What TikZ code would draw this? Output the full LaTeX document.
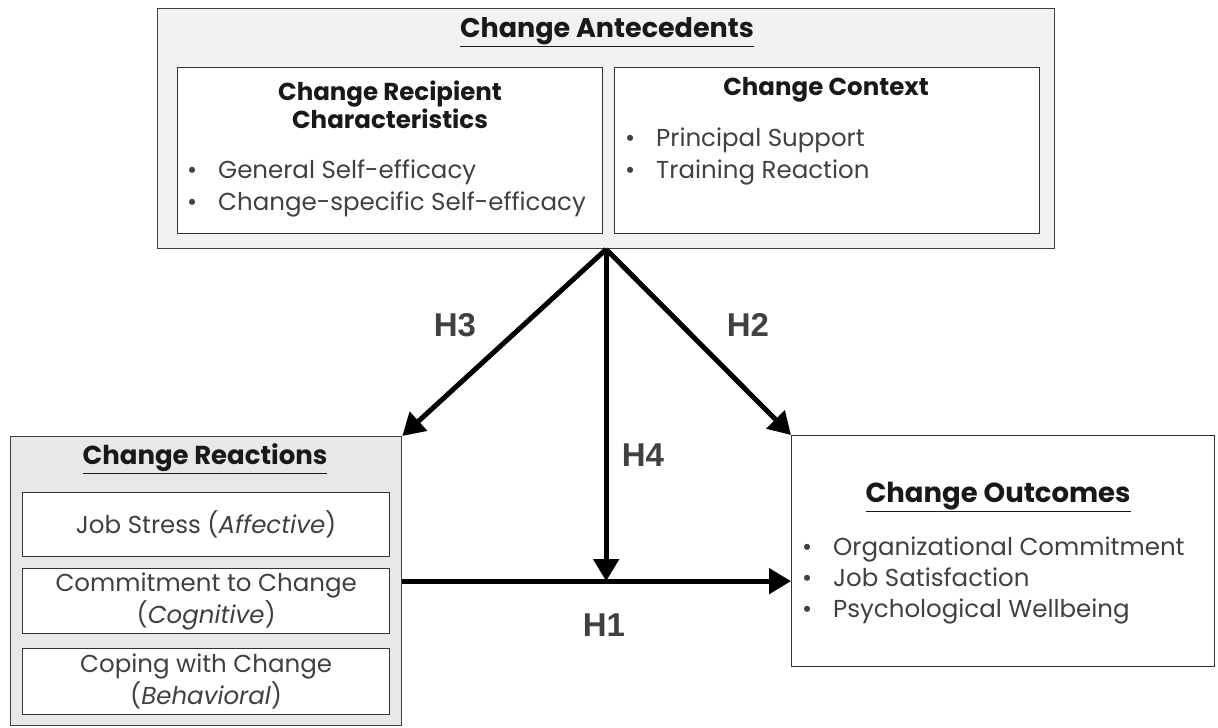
\documentclass[tikz,border=0pt]{standalone}
\usepackage{fontspec}
\setmainfont{Poppins}
\newfontfamily\labelfont{Liberation Sans}
\usetikzlibrary{arrows.meta}

\definecolor{antgray}{HTML}{F2F2F2}
\definecolor{reacgray}{HTML}{E8E8E8}
\definecolor{txtgray}{HTML}{404040}

\newcommand{\itemdot}{\makebox[31pt][l]{•}}

\tikzset{
  bigbox/.style={draw=black!75, line width=1.3pt, anchor=north west, inner sep=0pt},
  smallbox/.style={draw=black!80, line width=1.3pt, fill=white, anchor=north west, inner sep=0pt},
  boxtitle/.style={font=\bfseries\fontsize{27}{30}\selectfont, text=black!90},
  boxhead/.style={font=\bfseries\fontsize{24.5}{28}\selectfont, text=black!90, align=center},
  boxtext/.style={font=\fontsize{24.5}{32}\selectfont, text=txtgray, anchor=base west, inner sep=0pt},
  reactext/.style={font=\fontsize{24.5}{32}\selectfont, text=txtgray, align=center},
  hlabel/.style={font=\labelfont\bfseries\fontsize{33}{33}\selectfont, text=txtgray},
  harrow/.style={line width=5pt, -{Triangle[length=22pt,width=25pt]}}
}

\begin{document}
\begin{tikzpicture}[x=1pt, y=-1pt]
\useasboundingbox (0,0) rectangle (1218,728);

% antecedents
\node[bigbox, fill=antgray, minimum width=897pt, minimum height=240pt] (ante) at (157,8) {};
\node[smallbox, minimum width=425pt, minimum height=166pt] (recip) at (177,67) {};
\node[smallbox, minimum width=425pt, minimum height=166pt] (ctx) at (614,67) {};
\node[boxtitle] (antetitle) at (607,32) {\underline{Change Antecedents}};
\node[boxhead] (reciphead) at (390,105) {Change Recipient\\Characteristics};
\node[boxtext] (recip1) at (187,178) {\itemdot General Self-efficacy};
\node[boxtext] (recip2) at (187,210) {\itemdot Change-specific Self-efficacy};
\node[boxhead] (ctxhead) at (826,90) {Change Context};
\node[boxtext] (ctx1) at (625,146) {\itemdot Principal Support};
\node[boxtext] (ctx2) at (625,178) {\itemdot Training Reaction};

% reactions
\node[bigbox, fill=reacgray, minimum width=391pt, minimum height=289pt] (reac) at (10,436) {};
\node[boxtitle, font=\bfseries\fontsize{26}{30}\selectfont] (reactitle) at (205,459) {\underline{Change Reactions}};
\node[smallbox, minimum width=367pt, minimum height=64pt] (stress) at (22,492) {};
\node[smallbox, minimum width=367pt, minimum height=65pt] (commit) at (22,568) {};
\node[smallbox, minimum width=367pt, minimum height=66pt] (coping) at (22,648) {};
\node[reactext] (stresstext) at (stress.center) {Job Stress (\textit{Affective})};
\node[reactext] (committext) at (commit.center) {Commitment to Change\\(\textit{Cognitive})};
\node[reactext] (copingtext) at (coping.center) {Coping with Change\\(\textit{Behavioral})};

% outcomes
\node[smallbox, minimum width=423pt, minimum height=231pt] (outc) at (791,435) {};
\node[boxtitle, font=\bfseries\fontsize{27.5}{30}\selectfont] (outctitle) at (998,497) {\underline{Change Outcomes}};
\node[boxtext] (outc1) at (802,555) {\itemdot Organizational Commitment};
\node[boxtext] (outc2) at (802,586) {\itemdot Job Satisfaction};
\node[boxtext] (outc3) at (802,617) {\itemdot Psychological Wellbeing};

% hypotheses
\coordinate (meet) at (ante.south |- reac.east);
\draw[harrow] (ante.south) -- (reac.north east);
\draw[harrow] (ante.south) -- (outc.north west);
\draw[harrow] (ante.south) -- (meet);
\draw[harrow] (reac.east) -- (reac.east -| outc.west);

\node[hlabel] (h3) at (455,325) {H3};
\node[hlabel] (h2) at (748,325) {H2};
\node[hlabel] (h4) at (643,455) {H4};
\node[hlabel] (h1) at (604,625) {H1};
\end{tikzpicture}
\end{document}
